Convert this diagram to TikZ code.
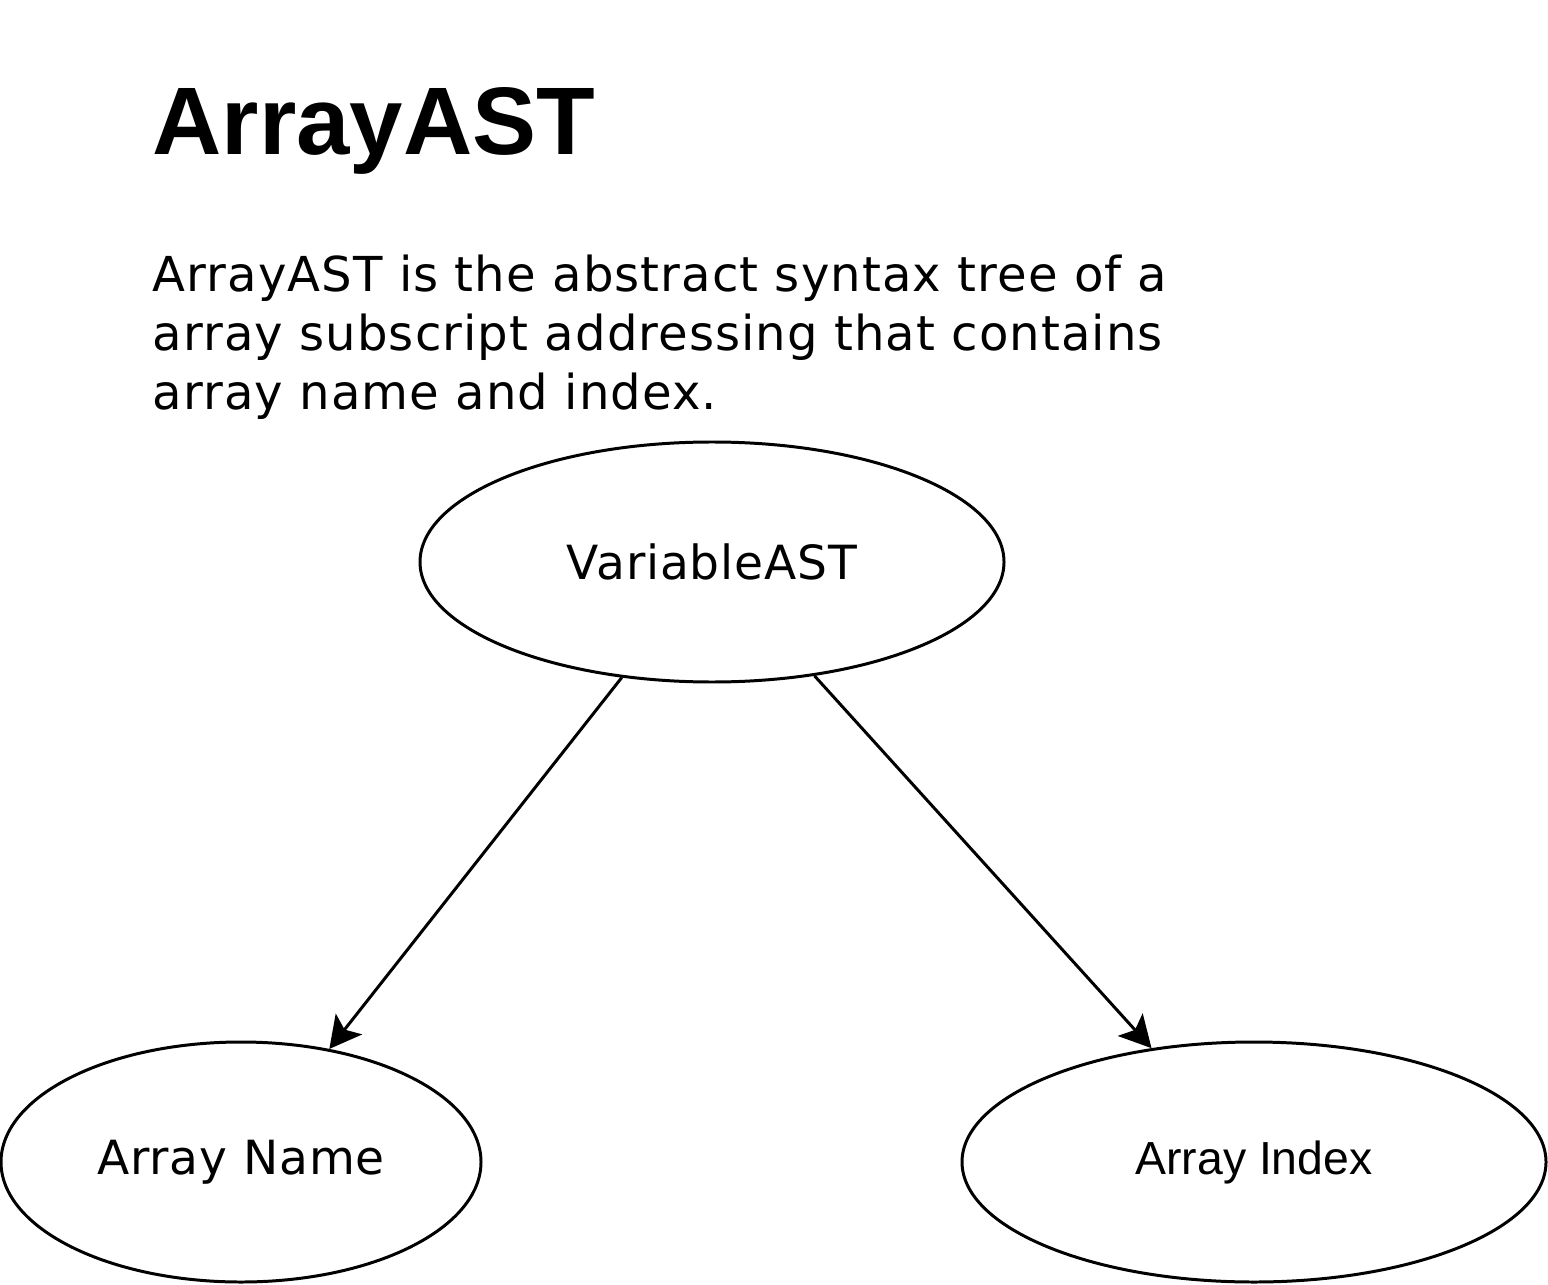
\documentclass[tikz,border=0pt]{standalone}
\usepackage{fontspec}
\setmainfont{DejaVu Sans}
\newfontfamily\arialfont{Liberation Sans}
\newfontfamily\widefont[LetterSpace=1.8]{DejaVu Sans}
\newfontfamily\parafont[LetterSpace=2.2]{DejaVu Sans}
\usetikzlibrary{shapes.geometric,arrows.meta}
\begin{document}
\begin{tikzpicture}[>={Stealth[length=9pt,width=9.5pt,inset=2pt]}]
\tikzstyle{Oval} = [draw, shape=ellipse, line width=0.85pt, inner sep=0, minimum height=2.4cm, font={\widefont\fontsize{13.4}{16}\selectfont}]
\tikzstyle{Head} = [inner sep=0, anchor=base west, font={\arialfont\bfseries\fontsize{27.3}{32}\selectfont}]
\tikzstyle{Text} = [inner sep=0, anchor=base west, align=left, font={\parafont\fontsize{13.7}{16.9}\selectfont}]
\useasboundingbox (0,0) rectangle (15.48,12.84);
\node [Head] (v1) at (1.52,11.29) {ArrayAST};
\node [Text] (v2) at (1.52,8.74) {ArrayAST is the abstract syntax tree of a\\array subscript addressing that contains\\array name and index.};
\node [Oval, minimum width=5.84cm] (v3) at (7.12,7.22) {VariableAST};
\node [Oval, minimum width=4.8cm] (v4) at (2.41,1.22) {Array Name};
\node [Oval, minimum width=5.84cm, font={\arialfont\fontsize{13.2}{16}\selectfont}] (v5) at (12.54,1.22) {Array Index};
\draw [->, line width=0.85pt] (v3.232) -- (v4.52);
\draw [->, line width=0.85pt] (v3.312) -- (v5.132);
\end{tikzpicture}
\end{document}
